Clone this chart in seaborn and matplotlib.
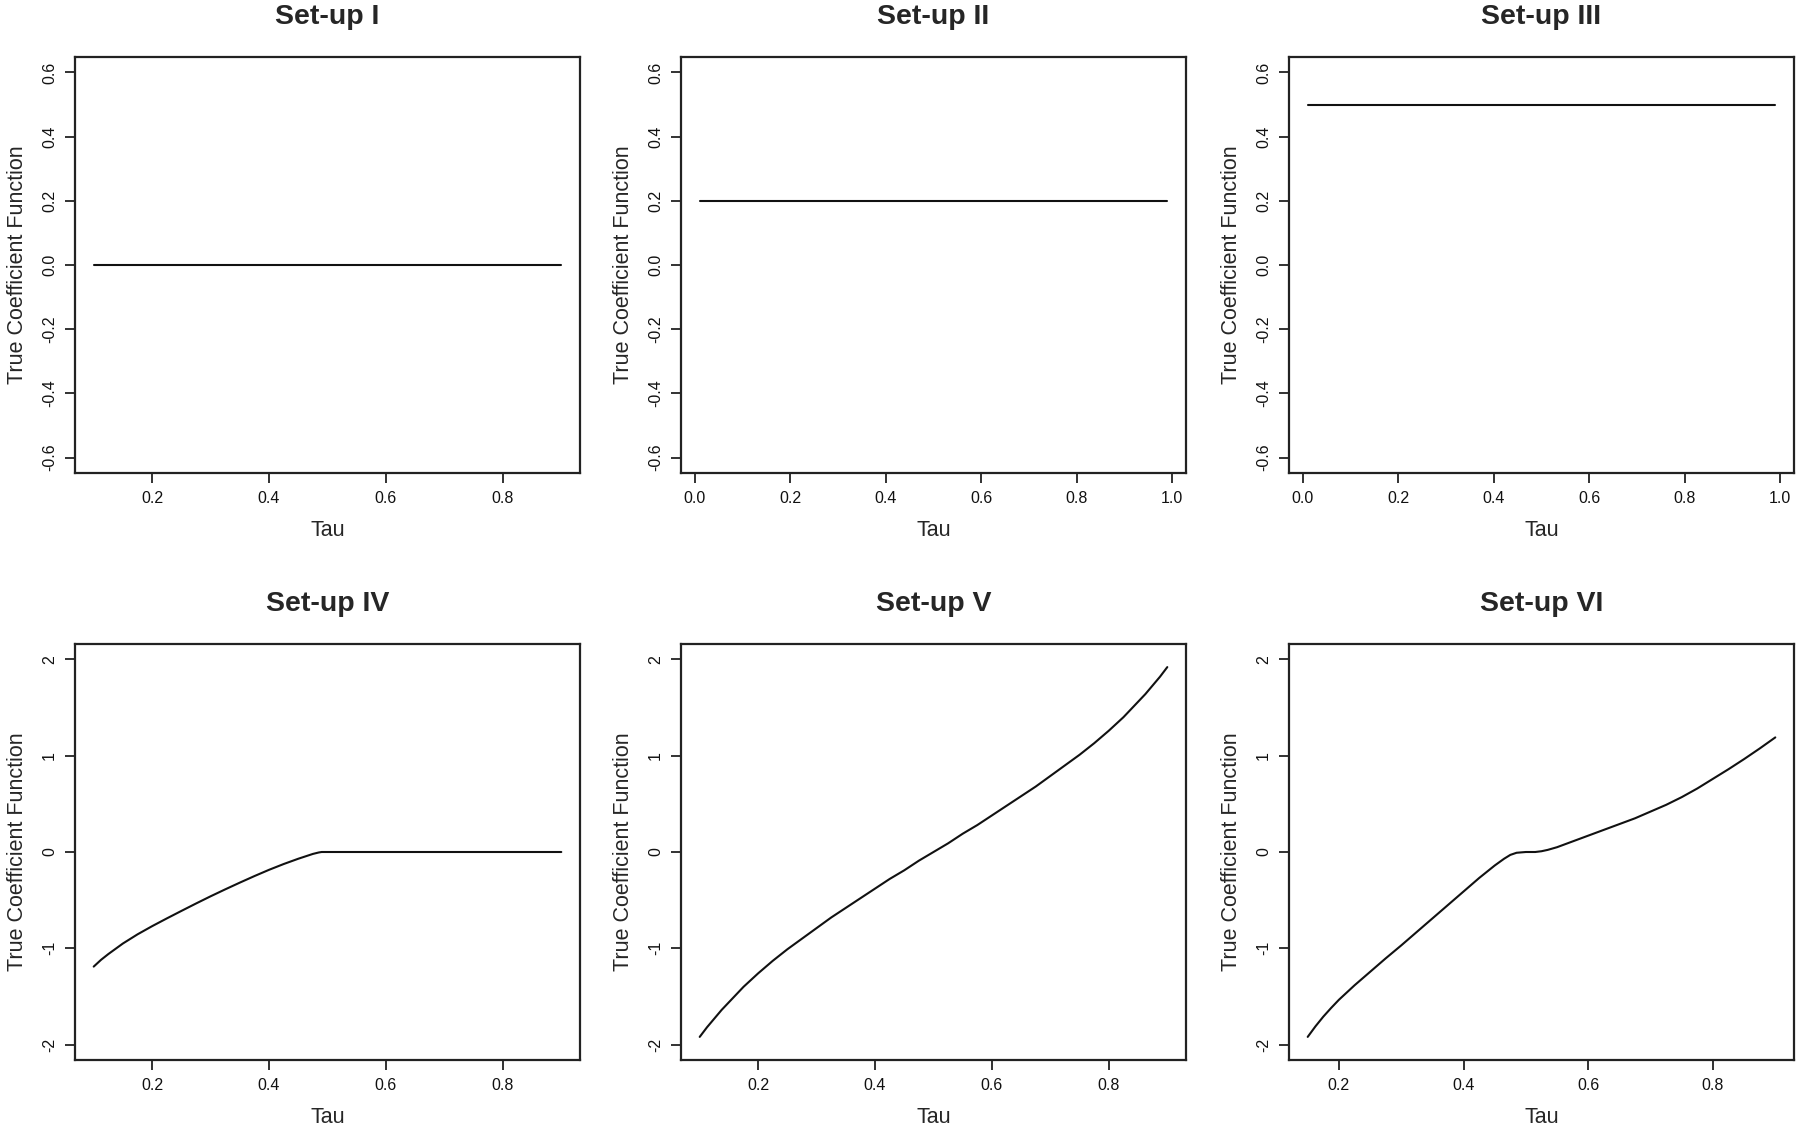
import matplotlib
matplotlib.use("Agg")
import matplotlib.pyplot as plt
import seaborn as sns

# valores (tau x coeficiente verdadeiro)
tau_1 = [0.1, 0.9]
coef_1 = [0.0, 0.0]

tau_2 = [0.01, 0.99]
coef_2 = [0.2, 0.2]

tau_3 = [0.01, 0.99]
coef_3 = [0.5, 0.5]

tau_4 = [0.1, 0.1125, 0.125, 0.1375, 0.15, 0.175, 0.2, 0.225, 0.25, 0.275, 0.3, 0.325, 0.35,
         0.375, 0.4, 0.425, 0.45, 0.465, 0.475, 0.485, 0.49, 0.5, 0.6, 0.7, 0.8, 0.9]
coef_4 = [-1.19, -1.12, -1.06, -1.005, -0.95, -0.855, -0.77, -0.69, -0.612, -0.535, -0.46,
          -0.388, -0.318, -0.25, -0.185, -0.125, -0.07, -0.04, -0.02, -0.005, 0.0,
          0.0, 0.0, 0.0, 0.0, 0.0]

tau_5 = [0.1, 0.1125, 0.125, 0.1375, 0.15, 0.1625, 0.175, 0.1875, 0.2, 0.225, 0.25, 0.275,
         0.3, 0.325, 0.35, 0.375, 0.4, 0.425, 0.45, 0.475, 0.5, 0.525, 0.55, 0.575, 0.6,
         0.625, 0.65, 0.675, 0.7, 0.725, 0.75, 0.775, 0.8, 0.8125, 0.825, 0.8375, 0.85,
         0.8625, 0.875, 0.8875, 0.9]
coef_5 = [-1.92, -1.82, -1.73, -1.64, -1.56, -1.48, -1.40, -1.33, -1.26, -1.13, -1.01, -0.90,
          -0.79, -0.68, -0.58, -0.48, -0.38, -0.28, -0.19, -0.09, 0.00, 0.09, 0.19, 0.28, 0.38,
          0.48, 0.58, 0.68, 0.79, 0.90, 1.01, 1.13, 1.26, 1.33, 1.40, 1.48, 1.56,
          1.64, 1.73, 1.82, 1.92]

tau_6 = [0.15, 0.1625, 0.175, 0.1875, 0.2, 0.225, 0.25, 0.275, 0.3, 0.325, 0.35, 0.375, 0.4,
         0.425, 0.45, 0.465, 0.475, 0.485, 0.5, 0.515, 0.525, 0.535, 0.55, 0.575,
         0.6, 0.625, 0.65, 0.675, 0.7, 0.725, 0.75, 0.775, 0.8, 0.825, 0.85, 0.875, 0.9]
coef_6 = [-1.92, -1.81, -1.71, -1.62, -1.535, -1.385, -1.245, -1.105, -0.97, -0.83, -0.69,
          -0.55, -0.41, -0.27, -0.14, -0.07, -0.03, -0.008, 0.0, 0.0, 0.008, 0.022, 0.05,
          0.11, 0.17, 0.23, 0.29, 0.35, 0.42, 0.49, 0.57, 0.66, 0.76, 0.86, 0.965, 1.075, 1.19]

titulos = ["Set-up I", "Set-up II", "Set-up III", "Set-up IV", "Set-up V", "Set-up VI"]
series = [(tau_1, coef_1), (tau_2, coef_2), (tau_3, coef_3),
          (tau_4, coef_4), (tau_5, coef_5), (tau_6, coef_6)]

ticks_y_cima = [-0.6, -0.4, -0.2, 0.0, 0.2, 0.4, 0.6]
ticks_y_baixo = [-2, -1, 0, 1, 2]

sns.set_style("ticks")
plt.rcParams['font.family'] = ['Liberation Sans', 'DejaVu Sans']
plt.rcParams['axes.unicode_minus'] = False

fig = plt.figure(figsize=(18, 11.3), dpi=100)

lefts = [75 / 1800, 681 / 1800, 1289 / 1800]
bottoms = [1 - 473 / 1130, 1 - 1060 / 1130]
w, h = 505 / 1800, 416 / 1130


def r_lim(lo, hi):
    # expansão de 4% como no R
    d = (hi - lo) * 0.04
    return lo - d, hi + d


for i, (titulo, (tau, coef)) in enumerate(zip(titulos, series)):
    row, col = divmod(i, 3)
    ax = fig.add_axes([lefts[col], bottoms[row], w, h])
    sns.lineplot(x=tau, y=coef, ax=ax, color='#111111', linewidth=1.5,
                 estimator=None, sort=False)
    ax.set_xlim(*r_lim(min(tau), max(tau)))
    if row == 0:
        ax.set_ylim(*r_lim(-0.6, 0.6))
        ax.set_yticks(ticks_y_cima)
        ax.set_yticklabels([f"{t:.1f}" for t in ticks_y_cima])
    else:
        ax.set_ylim(*r_lim(-2, 2))
        ax.set_yticks(ticks_y_baixo)
        ax.set_yticklabels([str(t) for t in ticks_y_baixo])
    xt = [t / 10 for t in range(0, 11, 2)]
    lo, hi = ax.get_xlim()
    xt = [t for t in xt if lo <= t <= hi]
    ax.set_xticks(xt)
    ax.set_xticklabels([f"{t:.1f}" for t in xt])
    for s in ax.spines.values():
        s.set_visible(True)
        s.set_linewidth(1.6)
        s.set_color('#222222')
    ax.tick_params(axis='both', direction='out', length=7, width=1.3,
                   color='#222222', labelsize=11.5, labelcolor='#111111')
    ax.tick_params(axis='x', pad=6)
    ax.tick_params(axis='y', pad=6)
    for lab in ax.get_yticklabels():
        lab.set_rotation(90)
        lab.set_va('center')
    ax.set_title(titulo, fontsize=20.5, fontweight='bold', pad=24)
    ax.set_xlabel('Tau', fontsize=15.5, labelpad=10)
    ax.set_ylabel('True Coefficient Function', fontsize=15.5, labelpad=10)
    ax.grid(False)

fig.savefig('out.png', dpi=100, facecolor='white')
